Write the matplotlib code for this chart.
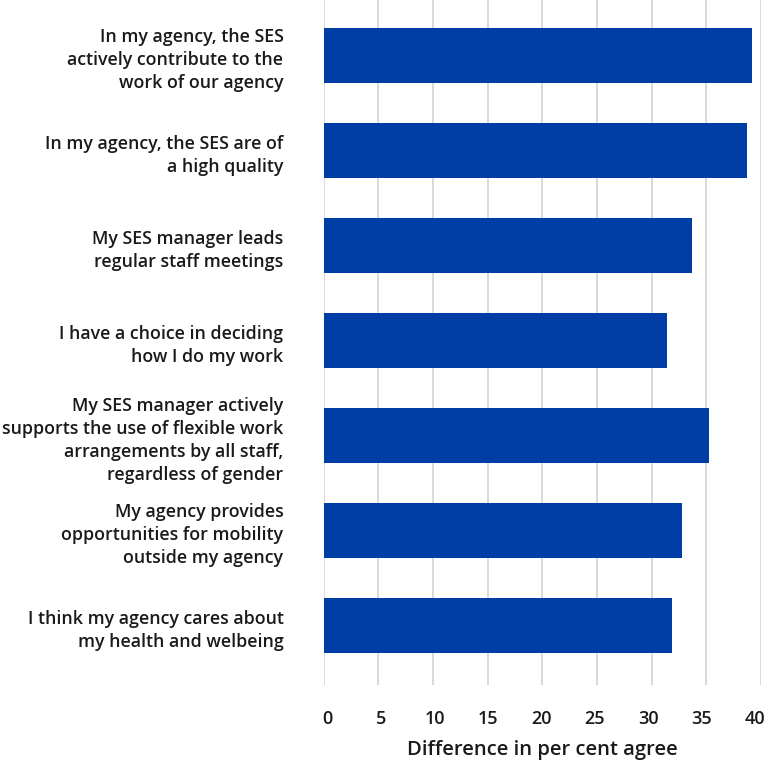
import matplotlib
matplotlib.use("Agg")
import matplotlib.pyplot as plt
import matplotlib.transforms as mtransforms
import numpy as np

categories = [
    "In my agency, the SES\nactively contribute to the\nwork of our agency",
    "In my agency, the SES are of\na high quality",
    "My SES manager leads\nregular staff meetings",
    "I have a choice in deciding\nhow I do my work",
    "My SES manager actively\nsupports the use of flexible work\narrangements by all staff,\nregardless of gender",
    "My agency provides\nopportunities for mobility\noutside my agency",
    "I think my agency cares about\nmy health and welbeing",
]
values = [39.2, 38.7, 33.7, 31.4, 35.2, 32.8, 31.9]
xticks = [0, 5, 10, 15, 20, 25, 30, 35, 40]
xlabel = "Difference in per cent agree"

plt.rcParams['font.family'] = ['Open Sans', 'DejaVu Sans']

fig = plt.figure(figsize=(7.68, 7.64), dpi=100)
ax = fig.add_axes([323.7/768, 1 - 685/764, (761 - 323.7)/768, 685/764])

y = np.arange(len(categories))
ax.barh(y, values, height=0.58, color='#003DA5', zorder=3)
ax.set_ylim(6.623, -0.587)
ax.set_xlim(0, 40)
ax.set_xticks(xticks)
ax.set_xticklabels([str(t) for t in xticks], fontsize=13, color='#1a1a1a', fontweight='semibold')
ax.set_yticks(y)
ax.set_yticklabels(categories, fontsize=12.8, color='#1a1a1a', linespacing=1.36, fontweight='semibold')
ax.tick_params(axis='y', length=0, pad=29)
ax.tick_params(axis='x', length=0, pad=18)
ax.grid(axis='x', color='#d3d3d3', linewidth=1.2, zorder=0)
for s in ax.spines.values():
    s.set_visible(False)
ax.set_xlabel(xlabel, fontsize=14.5, color='#1a1a1a', labelpad=9, fontweight='semibold')

n = len(xticks)
for i, lab in enumerate(ax.get_xticklabels()):
    dx = (4 - 10 * i / (n - 1)) / 100.0
    lab.set_transform(lab.get_transform() + mtransforms.ScaledTranslation(dx, 0, fig.dpi_scale_trans))

fig.savefig("out.png", dpi=100)
